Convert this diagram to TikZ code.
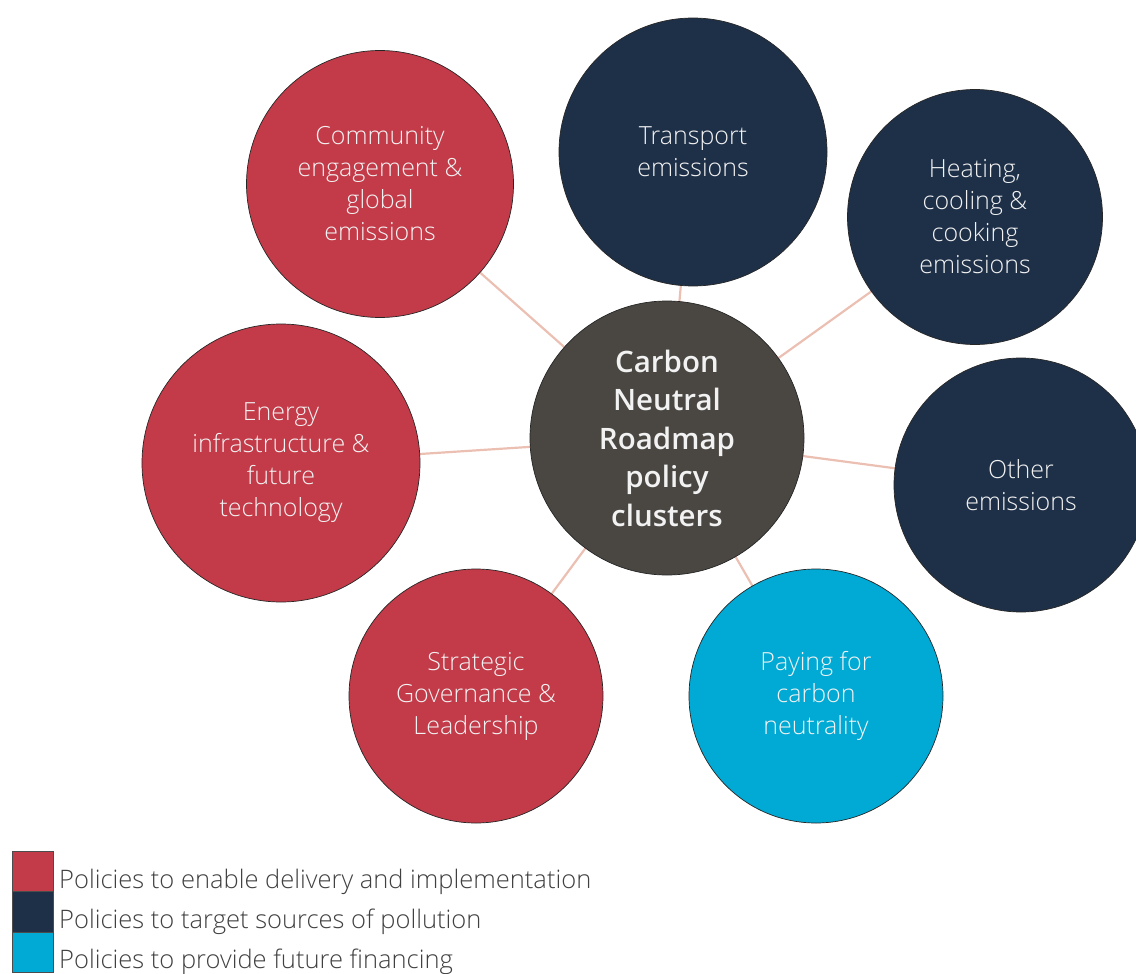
\documentclass[tikz,border=0pt]{standalone}
\usepackage{fontspec}
\setmainfont{Open Sans Light}[BoldFont=Open Sans Semibold]
\usetikzlibrary{backgrounds}
\definecolor{cred}{HTML}{C33A48}
\definecolor{cnavy}{HTML}{1E3048}
\definecolor{ccyan}{HTML}{00AAD5}
\definecolor{cgray}{HTML}{4A4743}
\definecolor{clink}{HTML}{EBC0B2}
\definecolor{ctext}{HTML}{404040}
\begin{document}
\begin{tikzpicture}[x=1pt,y=-1pt,
  bubble/.style={circle, draw=black!85, line width=0.7pt, inner sep=0pt, text=white!95!black, align=center, font=\fontsize{25}{32}\selectfont},
  hub/.style={bubble, fill=cgray, font=\bfseries\fontsize{29.5}{38.5}\selectfont},
  link/.style={draw=clink, line width=2.2pt},
  legbox/.style={rectangle, draw=black!70, line width=1pt, minimum width=41pt, minimum height=40.5pt, inner sep=0pt},
  legtext/.style={anchor=west, inner sep=0pt, text=ctext, font=\fontsize{25.5}{28}\selectfont}]
\useasboundingbox (0,0) rectangle (1136,974);
\node[hub, minimum size=274pt] (c) at (667,438) {Carbon\\Neutral\\Roadmap\\policy\\clusters};
\node[bubble, fill=cred, minimum size=267pt] (comm) at (380,184) {Community\\engagement \&\\global\\emissions};
\node[bubble, fill=cnavy, minimum size=268pt] (trans) at (693,152) {Transport\\emissions};
\node[bubble, fill=cnavy, minimum size=255pt] (heat) at (975,217) {Heating,\\cooling \&\\cooking\\emissions};
\node[bubble, fill=cnavy, minimum size=254pt] (other) at (1021,485) {Other\\emissions};
\node[bubble, fill=cred, minimum size=278pt] (energy) at (281,463) {Energy\\infrastructure \&\\future\\technology};
\node[bubble, fill=cred, minimum size=254pt] (strat) at (476,696) {Strategic\\Governance \&\\Leadership};
\node[bubble, fill=ccyan, minimum size=254pt] (pay) at (816,696) {Paying for\\carbon\\neutrality};
\begin{scope}[on background layer]
\foreach \n in {comm,trans,heat,other,energy,strat,pay}
  \draw[link] (c.center) -- (\n.center);
\end{scope}
\node[legbox, fill=cred] (l1) at (32.5,871.5) {};
\node[legbox, fill=cnavy] (l2) at (32.5,912) {};
\node[legbox, fill=ccyan] (l3) at (32.5,952.5) {};
\node[legtext] (t1) at (59,882) {Policies to enable delivery and implementation};
\node[legtext] (t2) at (59,922) {Policies to target sources of pollution};
\node[legtext] (t3) at (59,962) {Policies to provide future financing};
\end{tikzpicture}
\end{document}
